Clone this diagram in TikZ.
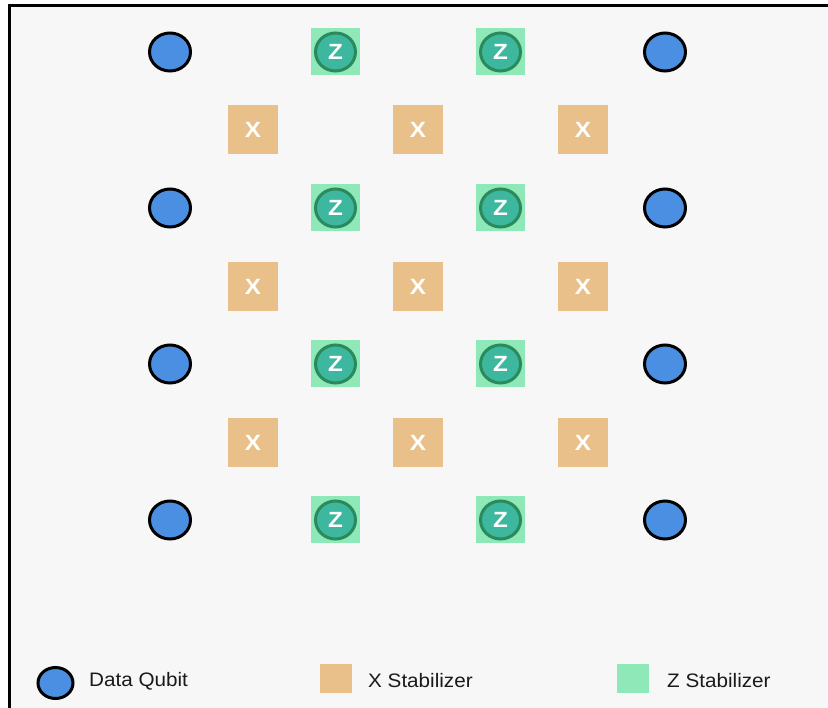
\documentclass[tikz,border=0pt]{standalone}
\usepackage{fontspec}
\setmainfont{Liberation Sans}
\newfontfamily\legfont[FakeStretch=1.06]{Liberation Sans}
\newfontfamily\boldlet[FakeStretch=1.1]{Liberation Sans}
\usetikzlibrary{shapes.geometric}
\definecolor{bgc}{HTML}{F7F7F7}
\definecolor{qblue}{HTML}{4A8FE2}
\definecolor{xfill}{HTML}{E9C08A}
\definecolor{zsq}{HTML}{8EE8B8}
\definecolor{zcirc}{HTML}{3DB89E}
\definecolor{zborder}{HTML}{2A8A5C}
\definecolor{txt}{HTML}{1A1A1A}
\tikzset{
  dataq/.style={ellipse, draw=black, line width=3pt, fill=qblue, minimum width=41pt, minimum height=38pt, inner sep=0pt},
  xstab/.style={rectangle, fill=xfill, minimum width=50pt, minimum height=49pt, inner sep=0pt,
    font=\boldlet\bfseries\fontsize{22}{22}\selectfont, text=white},
  zsquare/.style={rectangle, fill=zsq, minimum width=49pt, minimum height=47pt, inner sep=0pt},
  zcircle/.style={ellipse, draw=zborder, line width=3pt, fill=zcirc, minimum width=40pt, minimum height=38pt, inner sep=0pt,
    font=\boldlet\bfseries\fontsize{22}{22}\selectfont, text=white},
  legtext/.style={anchor=west, font=\legfont\fontsize{19.5}{22}\selectfont, text=txt, inner sep=0pt},
}
\begin{document}
\begin{tikzpicture}[x=1pt,y=-1pt]
\useasboundingbox (0,0) rectangle (828,708);
\fill[white] (0,0) rectangle (828,708);
\fill[bgc] (10,5) rectangle (828,708);
\draw[line width=2.2pt, line cap=rect] (9.5,708) -- (9.5,5.5) -- (828,5.5);
% data qubits and Z stabilizers
\foreach \r/\y in {1/52,2/208,3/364,4/520}{
  \node[dataq] (dL\r) at (170,\y) {};
  \node[dataq] (dR\r) at (665,\y) {};
  \node[zsquare] (zs1\r) at (335.5,\y) {};
  \node[zcircle] (zc1\r) at (335.5,\y) {Z};
  \node[zsquare] (zs2\r) at (500.5,\y) {};
  \node[zcircle] (zc2\r) at (500.5,\y) {Z};
}
% X stabilizers
\foreach \r/\y in {1/129.5,2/287,3/443}{
  \foreach \c/\x in {1/253,2/418,3/583}{
    \node[xstab] (x\c\r) at (\x,\y) {X};
  }
}
% legend
\node[ellipse, draw=black, line width=3pt, fill=qblue, minimum width=35pt, minimum height=31pt, inner sep=0pt] (legq) at (55.5,683) {};
\node[legtext] (legqt) at (89,681) {Data Qubit};
\node[rectangle, fill=xfill, minimum width=32pt, minimum height=29pt, inner sep=0pt] (legx) at (336,678.5) {};
\node[legtext] (legxt) at (368,681) {X Stabilizer};
\node[rectangle, fill=zsq, minimum width=32pt, minimum height=29pt, inner sep=0pt] (legz) at (633,678.5) {};
\node[legtext] (legzt) at (667,681) {Z Stabilizer};
\end{tikzpicture}
\end{document}
